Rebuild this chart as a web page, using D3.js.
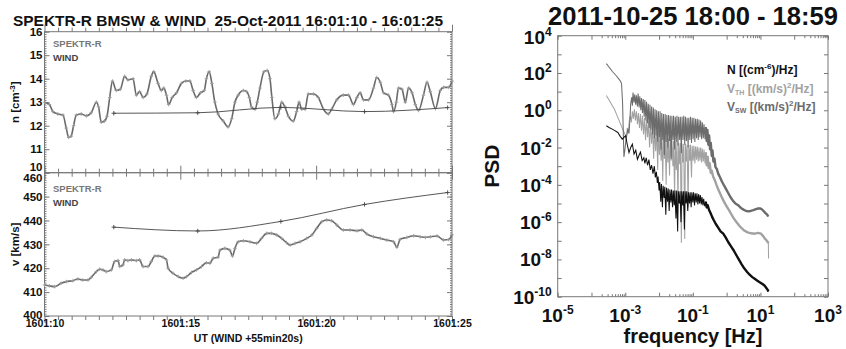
<!DOCTYPE html>
<html><head><meta charset="utf-8">
<script src="https://cdn.jsdelivr.net/npm/d3@7"></script>
<style>
body{margin:0;background:#fff;}
svg{display:block;font-family:"Liberation Sans",Arial,Helvetica,sans-serif;font-weight:bold;}
.axis path.domain{display:none;}
.axis line{stroke:#777;stroke-width:1;}
</style></head><body>
<svg id="c" width="846" height="349"></svg>
<script>
// ---------- data: left panels (time in "1601:ss" units) ----------
const spektrTimeN = [10.00,10.18,10.31,10.49,10.68,10.80,10.89,10.98,11.07,11.17,
 11.35,11.54,11.72,11.91,11.99,12.09,12.21,12.30,12.40,12.50,
 12.64,12.79,12.95,13.07,13.26,13.38,13.50,13.63,13.77,13.93,
 14.02,14.18,14.30,14.39,14.49,14.57,14.70,14.86,15.04,15.20,
 15.35,15.47,15.59,15.74,15.88,15.96,16.06,16.16,16.27,16.39,
 16.58,16.76,16.89,17.01,17.13,17.32,17.44,17.54,17.62,17.75,
 17.83,17.93,18.08,18.20,18.30,18.37,18.48,18.61,18.73,18.85,
 18.98,19.16,19.28,19.37,19.47,19.59,19.71,19.90,20.08,20.27,
 20.45,20.57,20.76,21.00,21.19,21.37,21.50,21.62,21.74,21.93,
 22.11,22.23,22.36,22.48,22.66,22.79,22.85,22.95,23.03,23.16,
 23.28,23.40,23.53,23.65,23.77,23.95,24.08,24.20,24.39,24.57,
 24.69,24.88,25.00];
const spektrDensity = [13.0,12.9,12.6,12.5,12.45,11.9,11.5,11.55,12.0,12.45,
 12.5,12.42,12.55,13.0,12.8,12.15,12.2,12.4,13.2,13.9,
 13.5,13.55,14.1,13.95,14.0,13.3,13.45,13.2,13.35,14.1,
 14.3,13.8,13.5,13.6,13.3,12.9,13.2,13.4,13.8,13.9,
 13.9,13.5,13.2,13.4,13.5,14.0,14.3,13.8,13.0,12.5,
 12.2,11.95,12.3,13.0,13.3,13.5,13.45,13.2,12.8,12.7,
 13.0,13.6,14.3,14.35,14.0,13.2,12.3,12.5,13.0,12.8,
 12.4,12.2,12.6,13.0,12.7,12.7,13.35,13.35,13.2,12.7,
 12.5,12.7,13.1,13.3,13.3,12.9,13.2,13.4,13.1,13.1,
 13.6,14.05,13.85,13.4,13.3,12.9,12.6,13.0,13.6,13.55,
 13.0,13.6,13.4,12.9,12.65,13.3,13.85,13.45,12.73,13.5,
 13.63,13.63,13.9];
const spektrTimeV = [10.00,10.18,10.37,10.61,10.80,11.05,11.23,11.41,11.60,11.72,
 11.91,12.03,12.15,12.27,12.46,12.58,12.71,12.77,12.89,12.95,
 13.07,13.20,13.38,13.50,13.63,13.81,13.93,14.06,14.18,14.36,
 14.49,14.55,14.73,14.92,15.10,15.23,15.41,15.59,15.78,15.96,
 16.09,16.21,16.39,16.46,16.64,16.82,16.92,17.01,17.13,17.32,
 17.56,17.81,17.99,18.18,18.36,18.55,18.73,18.91,19.04,19.22,
 19.41,19.65,19.84,20.02,20.21,20.39,20.57,20.76,21.00,21.25,
 21.50,21.68,21.87,22.11,22.36,22.60,22.85,22.97,23.09,23.34,
 23.59,23.83,24.02,24.20,24.45,24.69,24.88,25.00];
const spektrSpeed = [413.0,412.6,412.3,413.7,414.4,414.8,415.5,415.1,415.1,416.2,
 418.6,419.6,419.3,418.6,419.3,422.8,423.2,420.7,421.4,423.5,
 423.2,423.5,423.2,423.5,420.7,420.7,422.8,425.1,425.1,424.6,
 423.5,420.0,417.9,416.5,415.8,416.5,418.2,419.3,420.7,422.3,
 422.1,424.2,424.6,427.6,428.3,427.6,425.1,428.3,431.1,431.5,
 431.1,430.4,432.5,434.6,434.6,433.9,432.5,430.7,429.7,430.4,
 431.1,432.5,433.9,436.7,439.5,440.2,439.9,438.1,436.0,436.0,
 435.7,436.0,434.3,433.2,432.5,431.8,431.1,428.8,432.1,432.9,
 433.6,433.2,432.9,433.2,433.5,431.8,432.0,434.0];
const windTime = [12.55,15.64,18.70,21.78,24.84];
const windDensity = [12.53,12.55,12.78,12.60,12.77];
const windSpeed = [437.2,435.6,439.6,446.7,451.7];
const timeTicks = [10,15,20,25];
const timeTickLabels = ["1601:10","1601:15","1601:20","1601:25"];
const densityTicks = [10,11,12,13,14,15,16];
const speedTicks = [400,410,420,430,440,450,460];

// ---------- data: PSD panel, [log10 f (Hz), log10 PSD] ----------
const psdVsw = [[-3.56,2.50],[-3.50,2.36],[-3.44,2.22],[-3.38,2.08],[-3.32,1.96],[-3.26,1.84],[-3.20,1.70],[-3.14,1.56],[-3.11,1.42],[-3.08,0.40],[-3.06,-1.10],[-3.04,-2.50],[-3.01,-2.10],[-2.98,-1.60],[-2.95,-1.30],[-2.92,-1.00],[-2.89,-1.25],[-2.86,-0.40],[-2.84,0.35],[-2.81,0.70],[-2.79,0.25],[-2.77,0.95],[-2.74,0.40],[-2.72,0.85],[-2.69,0.30],[-2.67,0.80],[-2.64,0.20],[-2.62,0.90],[-2.59,0.15],[-2.57,0.75],[-2.54,0.00],[-2.52,0.65],[-2.49,-0.15],[-2.47,0.60],[-2.44,-0.35],[-2.42,0.55],[-2.39,-0.55],[-2.37,0.45],[-2.34,-0.70],[-2.32,0.35],[-2.29,-0.95],[-2.27,0.30],[-2.24,-1.05],[-2.22,0.20],[-2.19,-1.30],[-2.17,0.15],[-2.14,-1.50],[-2.12,0.05],[-2.09,-1.35],[-2.07,0.00],[-2.04,-1.70],[-2.02,-0.05],[-1.99,-1.45],[-1.97,-0.05],[-1.94,-2.10],[-1.92,-0.15],[-1.89,-1.60],[-1.87,-0.20],[-1.84,-2.40],[-1.82,-0.20],[-1.79,-1.70],[-1.77,-0.25],[-1.74,-2.00],[-1.72,-0.25],[-1.69,-1.65],[-1.67,-0.30],[-1.64,-2.60],[-1.62,-0.30],[-1.59,-1.60],[-1.57,-0.30],[-1.54,-2.10],[-1.52,-0.35],[-1.49,-1.70],[-1.47,-0.30],[-1.44,-1.90],[-1.42,-0.35],[-1.39,-1.60],[-1.37,-0.35],[-1.34,-2.30],[-1.32,-0.35],[-1.29,-1.60],[-1.27,-0.30],[-1.24,-1.85],[-1.22,-0.35],[-1.19,-1.65],[-1.17,-0.40],[-1.14,-2.00],[-1.12,-0.40],[-1.09,-1.60],[-1.07,-0.35],[-1.04,-1.75],[-1.02,-0.40],[-0.99,-1.55],[-0.97,-0.40],[-0.94,-1.70],[-0.92,-0.45],[-0.89,-1.50],[-0.87,-0.45],[-0.84,-1.60],[-0.82,-0.50],[-0.79,-1.45],[-0.77,-0.55],[-0.74,-1.55],[-0.72,-0.65],[-0.69,-1.50],[-0.67,-0.75],[-0.64,-1.55],[-0.62,-0.90],[-0.59,-1.65],[-0.57,-1.05],[-0.54,-1.85],[-0.52,-1.35],[-0.49,-2.10],[-0.47,-1.75],[-0.44,-2.45],[-0.42,-2.15],[-0.39,-2.75],[-0.36,-2.60],[-0.33,-3.05],[-0.29,-3.15],[-0.25,-3.40],[-0.20,-3.58],[-0.14,-3.82],[-0.08,-4.02],[-0.02,-4.22],[0.05,-4.45],[0.12,-4.68],[0.19,-4.86],[0.26,-5.00],[0.33,-5.08],[0.40,-5.20],[0.47,-5.30],[0.55,-5.38],[0.63,-5.42],[0.71,-5.40],[0.79,-5.36],[0.87,-5.30],[0.93,-5.27],[0.99,-5.26],[1.05,-5.32],[1.10,-5.42],[1.15,-5.52],[1.20,-5.60],[1.23,-5.70]];
const psdVth = [[-3.56,0.79],[-3.48,0.55],[-3.40,0.30],[-3.32,0.05],[-3.24,-0.30],[-3.16,-0.65],[-3.08,-1.00],[-3.02,-1.25],[-2.97,-1.46],[-2.94,-0.95],[-2.91,-1.20],[-2.88,-0.55],[-2.85,-0.30],[-2.82,-0.65],[-2.79,-0.05],[-2.76,-0.45],[-2.73,0.05],[-2.70,-0.55],[-2.67,-0.05],[-2.64,-0.75],[-2.61,-0.15],[-2.58,-0.95],[-2.55,-0.20],[-2.52,-1.10],[-2.49,-0.30],[-2.46,-1.30],[-2.43,-0.40],[-2.40,-1.60],[-2.37,-0.50],[-2.34,-1.45],[-2.31,-0.60],[-2.28,-2.00],[-2.25,-0.70],[-2.22,-1.80],[-2.19,-0.80],[-2.16,-2.60],[-2.13,-0.90],[-2.10,-2.20],[-2.07,-1.00],[-2.04,-3.20],[-2.02,-1.10],[-1.99,-2.40],[-1.97,-1.20],[-1.94,-2.70],[-1.92,-1.25],[-1.89,-3.80],[-1.87,-1.30],[-1.84,-2.60],[-1.82,-1.40],[-1.79,-4.00],[-1.77,-1.45],[-1.74,-2.80],[-1.72,-1.50],[-1.69,-3.50],[-1.67,-1.55],[-1.64,-2.70],[-1.62,-1.60],[-1.59,-3.00],[-1.57,-1.65],[-1.54,-4.60],[-1.52,-1.70],[-1.49,-3.20],[-1.47,-1.70],[-1.44,-5.00],[-1.42,-1.75],[-1.39,-2.90],[-1.37,-1.75],[-1.34,-7.10],[-1.32,-1.80],[-1.29,-2.80],[-1.27,-1.80],[-1.24,-6.90],[-1.22,-1.80],[-1.19,-2.75],[-1.17,-1.85],[-1.14,-5.20],[-1.12,-1.85],[-1.09,-2.70],[-1.07,-1.85],[-1.04,-3.60],[-1.02,-1.90],[-0.99,-2.70],[-0.97,-1.90],[-0.94,-2.85],[-0.92,-1.95],[-0.89,-2.65],[-0.87,-1.95],[-0.84,-2.75],[-0.82,-2.00],[-0.79,-2.70],[-0.77,-2.00],[-0.74,-2.80],[-0.72,-2.05],[-0.69,-2.75],[-0.67,-2.10],[-0.64,-2.85],[-0.62,-2.25],[-0.59,-2.95],[-0.56,-2.50],[-0.53,-3.10],[-0.50,-2.85],[-0.47,-3.35],[-0.44,-3.25],[-0.40,-3.55],[-0.35,-3.75],[-0.30,-4.00],[-0.24,-4.28],[-0.16,-4.60],[-0.08,-4.90],[0.00,-5.15],[0.07,-5.36],[0.13,-5.55],[0.21,-5.80],[0.30,-6.02],[0.37,-6.18],[0.43,-6.30],[0.52,-6.45],[0.62,-6.55],[0.73,-6.60],[0.83,-6.62],[0.93,-6.58],[1.02,-6.62],[1.08,-6.75],[1.13,-6.88],[1.17,-6.95],[1.21,-7.05],[1.235,-7.13],[1.24,-7.95]];
const psdN = [[-3.56,-0.83],[-3.48,-0.92],[-3.40,-1.00],[-3.32,-1.08],[-3.22,-1.19],[-3.15,-1.40],[-3.09,-1.55],[-3.04,-1.45],[-2.99,-1.37],[-2.94,-1.85],[-2.89,-2.27],[-2.84,-2.00],[-2.79,-1.82],[-2.74,-2.35],[-2.69,-2.15],[-2.64,-2.63],[-2.59,-2.40],[-2.55,-2.25],[-2.50,-2.70],[-2.45,-2.55],[-2.42,-2.85],[-2.38,-2.55],[-2.34,-2.95],[-2.30,-2.65],[-2.26,-3.20],[-2.22,-2.95],[-2.18,-3.40],[-2.14,-3.00],[-2.11,-3.60],[-2.08,-3.30],[-2.05,-3.90],[-2.03,-3.55],[-2.00,-4.30],[-1.98,-3.85],[-1.95,-4.90],[-1.93,-3.95],[-1.90,-5.20],[-1.88,-4.05],[-1.85,-4.70],[-1.83,-4.10],[-1.80,-5.60],[-1.78,-4.15],[-1.75,-4.90],[-1.73,-4.20],[-1.70,-5.40],[-1.68,-4.25],[-1.65,-4.95],[-1.63,-4.25],[-1.60,-5.20],[-1.58,-4.30],[-1.55,-5.10],[-1.53,-4.30],[-1.50,-5.80],[-1.48,-4.30],[-1.45,-6.50],[-1.43,-4.35],[-1.40,-5.00],[-1.38,-4.35],[-1.35,-6.00],[-1.33,-4.35],[-1.30,-5.10],[-1.28,-4.35],[-1.25,-6.40],[-1.23,-4.35],[-1.20,-5.00],[-1.18,-4.35],[-1.15,-5.40],[-1.13,-4.40],[-1.10,-5.00],[-1.08,-4.40],[-1.05,-5.20],[-1.03,-4.40],[-1.00,-4.95],[-0.98,-4.40],[-0.95,-5.10],[-0.93,-4.45],[-0.90,-4.95],[-0.88,-4.45],[-0.85,-5.05],[-0.83,-4.50],[-0.80,-5.00],[-0.78,-4.55],[-0.75,-5.05],[-0.73,-4.65],[-0.70,-5.10],[-0.68,-4.75],[-0.65,-5.15],[-0.62,-4.90],[-0.59,-5.20],[-0.56,-5.10],[-0.52,-5.35],[-0.48,-5.50],[-0.43,-5.72],[-0.38,-5.90],[-0.32,-6.10],[-0.25,-6.30],[-0.18,-6.50],[-0.10,-6.62],[-0.03,-6.82],[0.05,-7.08],[0.13,-7.30],[0.21,-7.52],[0.28,-7.75],[0.36,-8.00],[0.44,-8.25],[0.52,-8.48],[0.60,-8.66],[0.68,-8.82],[0.76,-8.95],[0.83,-9.04],[0.91,-9.14],[0.99,-9.24],[1.06,-9.32],[1.12,-9.40],[1.17,-9.52],[1.21,-9.62],[1.235,-9.72]];
const freqLabelExps = [-5,-3,-1,1,3];
const psdLabelExps = [4,2,0,-2,-4,-6,-8,-10];

// ---------- drawing ----------
const svg = d3.select("#c");
const FR = "#777";

// left scales
const x = d3.scaleLinear([10,25],[44.5,452]);
const yN = d3.scaleLinear([10,16],[172.7,31.7]);
const yV = d3.scaleLinear([400,460],[316,172.7]);

svg.append("text").attr("x",13).attr("y",26).attr("font-size",15.5)
  .attr("textLength",430).attr("lengthAdjust","spacingAndGlyphs").attr("fill","#111")
  .style("white-space","pre").text("SPEKTR-R BMSW & WIND  25-Oct-2011 16:01:10 - 16:01:25");

function panel(y, majors, minorStep, top) {
  const [d0,d1] = y.domain();
  const minors = d3.range(d0, d1 + minorStep/2, minorStep);
  const halfT = d3.range(10, 25.01, 0.5);
  const g = svg.append("g");
  g.append("rect").attr("x",x(10)).attr("y",y(d1)).attr("width",x(25)-x(10)).attr("height",y(d0)-y(d1))
    .attr("fill","none").attr("stroke",FR);
  g.append("g").attr("class","axis").attr("transform",`translate(${x(10)},0)`)
    .call(d3.axisLeft(y).tickValues(minors).tickSize(-2).tickFormat(""));
  g.append("g").attr("class","axis").attr("transform",`translate(${x(25)},0)`)
    .call(d3.axisRight(y).tickValues(minors).tickSize(-2).tickFormat(""));
  g.append("g").attr("class","axis").attr("transform",`translate(${x(25)},0)`)
    .call(d3.axisRight(y).tickValues(majors).tickSize(-5).tickFormat(""));
  const ya = g.append("g").attr("class","axis").attr("transform",`translate(${x(10)},0)`)
    .call(d3.axisLeft(y).tickValues(majors).tickSize(-5).tickPadding(2).tickFormat(d3.format("d")));
  ya.selectAll("text").attr("font-size",11.5).attr("font-family",null).attr("fill","#111")
    .attr("dy",d => d===d0 && top ? "-0.2em" : (d===d1 && !top ? "0.74em" : (d===d0 ? "0.2em" : "0.32em")));
  [[y(d1),d3.axisBottom],[y(d0),d3.axisTop]].forEach(([yy,ax]) => {
    g.append("g").attr("class","axis").attr("transform",`translate(0,${yy})`)
      .call(ax(x).tickValues(halfT.filter(t => t%5!==0)).tickSize(-4).tickFormat(""));
    g.append("g").attr("class","axis").attr("transform",`translate(0,${yy})`)
      .call(ax(x).tickValues(timeTicks).tickSize(-7).tickFormat(""));
  });
  return g;
}
const gN = panel(yN, densityTicks, 0.1, true);
const gV = panel(yV, speedTicks, 1, false);

const xa = svg.append("g").attr("class","axis").attr("transform",`translate(0,${yV(400)})`)
  .call(d3.axisBottom(x).tickValues(timeTicks).tickSize(0).tickPadding(4).tickFormat((d,i)=>timeTickLabels[i]));
xa.selectAll("text").attr("font-size",10.5).attr("font-family",null).attr("fill","#111");
svg.append("text").attr("x",(x(10)+x(25))/2).attr("y",341.5).attr("text-anchor","middle")
  .attr("font-size",10.5).attr("fill","#111").text("UT (WIND +55min20s)");

const tN = svg.append("text").attr("transform",`translate(19,${(yN(10)+yN(16))/2}) rotate(-90)`)
  .attr("text-anchor","middle").attr("font-size",11.5).attr("fill","#111");
tN.append("tspan").text("n [cm");
tN.append("tspan").attr("font-size",8).attr("dy",-4).text("-3");
tN.append("tspan").attr("dy",4).text("]");
svg.append("text").attr("transform",`translate(19,${(yV(400)+yV(460))/2}) rotate(-90)`)
  .attr("text-anchor","middle").attr("font-size",11.5).attr("fill","#111").text("v [km/s]");

[[gN,47],[gV,192]].forEach(([g,yy]) => {
  g.append("text").attr("x",53).attr("y",yy).attr("font-size",9.5).attr("fill","#777").text("SPEKTR-R");
  g.append("text").attr("x",53).attr("y",yy+14).attr("font-size",9.5).attr("fill","#444").text("WIND");
});

const plus = "M-2,0H2M0,-2V2";
function series(g, ts, vs, y, color, mcolor, width, msize) {
  const pts = ts.map((t,i)=>[x(t), y(vs[i])]);
  g.append("path").attr("d", d3.line().curve(d3.curveMonotoneX)(pts))
    .attr("fill","none").attr("stroke",color).attr("stroke-width",width);
  g.selectAll(null).data(pts).join("path")
    .attr("transform",d=>`translate(${d[0]},${d[1]}) scale(${msize})`)
    .attr("d",plus).attr("fill","none").attr("stroke",mcolor).attr("stroke-width",0.9/msize);
}
series(gN, spektrTimeN, spektrDensity, yN, "#6a6a6a", "#9a9a9a", 1.6, 0.9);
series(gN, windTime, windDensity, yN, "#444", "#444", 0.9, 1.1);
series(gV, spektrTimeV, spektrSpeed, yV, "#6a6a6a", "#9a9a9a", 1.6, 0.9);
series(gV, windTime, windSpeed, yV, "#444", "#444", 0.9, 1.1);

// ---------- PSD panel ----------
const fx = d3.scaleLog([1e-5,1e3],[557.7,828]);
const py = d3.scaleLog([1e-10,1e4],[296.7,35.7]);
const gp = svg.append("g");
gp.append("rect").attr("x",fx(1e-5)).attr("y",py(1e4)).attr("width",fx(1e3)-fx(1e-5))
  .attr("height",py(1e-10)-py(1e4)).attr("fill","none").attr("stroke",FR);
const decadesX = d3.range(-5,4).map(e=>Math.pow(10,e));
const minorX = [];
[-4,-2,0,2].forEach(e => d3.range(2,10).forEach(m => minorX.push(m*Math.pow(10,e))));
const decadesY = d3.range(-10,5).map(e=>Math.pow(10,e));
[[py(1e-10),d3.axisBottom],[py(1e4),d3.axisTop]].forEach(([yy,ax]) => {
  gp.append("g").attr("class","axis").attr("transform",`translate(0,${yy})`)
    .call(ax(fx).tickValues(decadesX).tickSize(-4).tickFormat(""));
  gp.append("g").attr("class","axis").attr("transform",`translate(0,${yy})`)
    .call(ax(fx).tickValues(minorX).tickSize(-2.5).tickFormat(""));
});
[[fx(1e-5),d3.axisLeft],[fx(1e3),d3.axisRight]].forEach(([xx,ax]) => {
  gp.append("g").attr("class","axis").attr("transform",`translate(${xx},0)`)
    .call(ax(py).tickValues(decadesY).tickSize(-4).tickFormat(""));
});
freqLabelExps.forEach(e => {
  const t = gp.append("text").attr("x",fx(Math.pow(10,e))).attr("y",321.7).attr("text-anchor","middle").attr("fill","#111");
  t.append("tspan").attr("font-size",19).text("10");
  t.append("tspan").attr("font-size",12).attr("dy",-8).text(String(e));
});
psdLabelExps.forEach(e => {
  const t = gp.append("text").attr("x",551.7).attr("y",py(Math.pow(10,e))+(e===4?8.5:7)).attr("text-anchor","end").attr("fill","#111");
  t.append("tspan").attr("font-size",19).text("10");
  t.append("tspan").attr("font-size",12).attr("dy",-8).text(String(e));
});
gp.append("text").attr("x",693).attr("y",25).attr("text-anchor","middle").attr("font-size",25.5)
  .attr("textLength",290).attr("lengthAdjust","spacingAndGlyphs").attr("fill","#111")
  .text("2011-10-25 18:00 - 18:59");
gp.append("text").attr("transform",`translate(499,${(py(1e4)+py(1e-10))/2}) rotate(-90)`)
  .attr("text-anchor","middle").attr("font-size",21).attr("fill","#111").text("PSD");
gp.append("text").attr("x",693).attr("y",343).attr("text-anchor","middle").attr("font-size",20)
  .attr("fill","#111").text("frequency [Hz]");

const lineP = d3.line().x(d=>fx(Math.pow(10,d[0]))).y(d=>py(Math.pow(10,d[1])));
[[psdVth,"#a2a2a2"],[psdVsw,"#6c6c6c"],[psdN,"#111"]].forEach(([data,color]) => {
  gp.append("path").attr("d",lineP(data)).attr("fill","none").attr("stroke",color).attr("stroke-width",1.05);
  gp.append("path").attr("d",lineP(data.filter(d=>d[0]>=-0.62 && d[0] < 1.238)))
    .attr("fill","none").attr("stroke",color).attr("stroke-width",2.4).attr("stroke-linejoin","round");
});

const lg = gp.append("g").attr("font-size",12);
const l1 = lg.append("text").attr("x",727).attr("y",74).attr("fill","#111");
l1.append("tspan").text("N [(cm"); l1.append("tspan").attr("font-size",8).attr("dy",-5).text("-6");
l1.append("tspan").attr("dy",5).text(")/Hz]");
const l2 = lg.append("text").attr("x",727).attr("y",92.5).attr("fill","#a2a2a2");
l2.append("tspan").text("V"); l2.append("tspan").attr("font-size",7).attr("dy",2).text("TH");
l2.append("tspan").attr("dy",-2).text(" [(km/s)"); l2.append("tspan").attr("font-size",8).attr("dy",-5).text("2");
l2.append("tspan").attr("dy",5).text("/Hz]");
const l3 = lg.append("text").attr("x",727).attr("y",111).attr("fill","#6c6c6c");
l3.append("tspan").text("V"); l3.append("tspan").attr("font-size",7).attr("dy",2).text("SW");
l3.append("tspan").attr("dy",-2).text(" [(km/s)"); l3.append("tspan").attr("font-size",8).attr("dy",-5).text("2");
l3.append("tspan").attr("dy",5).text("/Hz]");
</script></body></html>
